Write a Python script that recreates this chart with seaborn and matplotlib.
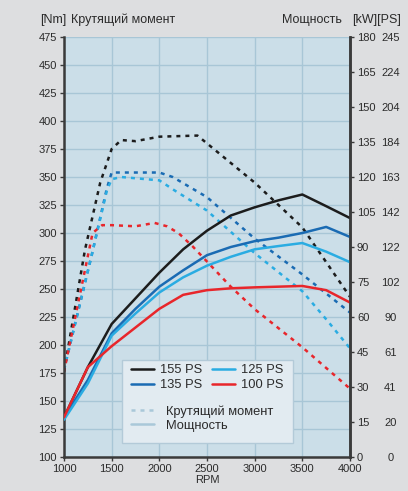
import matplotlib
matplotlib.use("Agg")
import matplotlib.pyplot as plt
import seaborn as sns
import numpy as np
import pandas as pd
from matplotlib.lines import Line2D
from matplotlib.patches import Rectangle

# ---- data ----
rpm_t155 = [1000, 1220, 1380, 1500, 1600, 1750, 2000, 2400, 2500, 3000, 3500, 4000]
torque_155 = [176, 285, 345, 375, 383, 382, 386, 387, 380, 345, 305, 243]
rpm_t135 = [1000, 1290, 1450, 1500, 2000, 2140, 2500, 3000, 3500, 4000]
torque_135 = [178, 280, 340, 354, 354, 350, 332, 295, 263, 229]
rpm_t125 = [1000, 1290, 1450, 1500, 1600, 2000, 2160, 2500, 3000, 3500, 3760, 4000]
torque_125 = [178, 280, 338, 348, 350, 347, 338, 320, 282, 248, 222, 197]
rpm_t100 = [1000, 1300, 1400, 1500, 1750, 1950, 2080, 2200, 2350, 2750, 3000, 3500, 4000]
torque_100 = [176, 300, 307, 307, 306, 309, 306, 300, 288, 252, 232, 198, 161]

rpm_p = [1000, 1250, 1500, 1750, 2000, 2250, 2500, 2750, 3000, 3250, 3500, 3750, 4000]
power_155 = [17, 38.5, 57, 68, 79, 89, 97, 103.5, 107, 110, 112.5, 107.5, 102.4]
power_135 = [17, 33, 53, 63.5, 73, 80, 86.5, 90, 92.5, 94, 96, 98.6, 94.3]
power_125 = [16, 31.5, 52, 61.5, 70.5, 77, 82, 85.8, 89, 90.4, 91.7, 88, 83.5]
power_100 = [17, 38.5, 47.5, 55.5, 63.5, 69.5, 71.5, 72.3, 72.7, 73, 73.3, 71.5, 66.2]

series = ["155 PS", "135 PS", "125 PS", "100 PS"]
colors = ["#1c1c1c", "#1a6bb3", "#2aace2", "#e8262b"]
torque_sets = [(rpm_t155, torque_155), (rpm_t135, torque_135),
               (rpm_t125, torque_125), (rpm_t100, torque_100)]
power_sets = [power_155, power_135, power_125, power_100]

y_left_ticks = list(range(100, 476, 25))
kw_ticks = list(range(0, 181, 15))
ps_labels = ["0", "20", "41", "61", "90", "102", "122", "142", "163", "184", "204", "224", "245"]
x_ticks = list(range(1000, 4001, 500))

# ---- style ----
sns.set_theme(style="white")
plt.rcParams["font.family"] = ["Liberation Sans", "DejaVu Sans"]
txt = "#2b2b2b"
face = "#cbdee8"
grid_c = "#a8c6d6"
spine_c = "#3a3a3a"

fig = plt.figure(figsize=(4.08, 4.91), dpi=100, facecolor="#dddee0")
ax = fig.add_axes([64/408, 34/491, 286/408, 420/491])
ax.set_facecolor(face)
ax.set_xlim(1000, 4000)
ax.set_ylim(100, 475)
ax.set_xticks(x_ticks)
ax.set_yticks(y_left_ticks)
ax.grid(True, color=grid_c, lw=1.0)
ax.set_axisbelow(True)
ax.spines["top"].set_visible(False)
for s in ["left", "right", "bottom"]:
    ax.spines[s].set_color(spine_c)
    ax.spines[s].set_linewidth(1.8)
ax.tick_params(axis="both", direction="out", length=3, width=1, color=spine_c,
               labelsize=8, labelcolor=txt, pad=2, left=True, bottom=True)
ax.set_xlabel("RPM", fontsize=8, color=txt, labelpad=1)
ax.set_ylabel("")

for (r, t), c in zip(torque_sets, colors):
    sns.lineplot(x=r, y=t, ax=ax, color=c, lw=1.8, linestyle=(0, (1.6, 2.0)),
                 estimator=None, sort=False, legend=False)

ax2 = ax.twinx()
ax2.set_ylim(0, 180)
ax2.set_yticks(kw_ticks)
ax2.set_yticklabels([str(v) for v in kw_ticks])
ax2.patch.set_visible(False)
for s in ["top", "left", "bottom"]:
    ax2.spines[s].set_visible(False)
ax2.spines["right"].set_color(spine_c)
ax2.spines["right"].set_linewidth(1.8)
ax2.tick_params(axis="y", direction="out", length=3, width=1, color=spine_c,
                labelsize=8, labelcolor=txt, pad=2, right=True)
ax2.grid(False)

for p, c in zip(power_sets, colors):
    sns.lineplot(x=rpm_p, y=p, ax=ax2, color=c, lw=1.8,
                 estimator=None, sort=False, legend=False)

ax3 = ax.twinx()
ax3.set_ylim(0, 180)
ax3.set_yticks(kw_ticks)
ax3.set_yticklabels(ps_labels)
ax3.patch.set_visible(False)
for s in ax3.spines.values():
    s.set_visible(False)
ax3.tick_params(axis="y", length=0, labelsize=8, labelcolor=txt, pad=29)
for lab in ax3.get_yticklabels():
    lab.set_horizontalalignment("center")
ax3.grid(False)

# legend
ax2.add_patch(Rectangle((0.203, 0.033), 0.598, 0.198, transform=ax.transAxes,
                        facecolor="#e2ebf1", edgecolor="#b3cad8", lw=1.0, zorder=5))
h1 = [Line2D([], [], color=c, lw=1.8) for c in colors]
leg1 = ax2.legend(h1, series, ncol=2, loc="upper left", bbox_to_anchor=(0.201, 0.243),
                  frameon=False, fontsize=9.3, handlelength=1.8, handletextpad=0.5,
                  columnspacing=0.7, labelspacing=0.25, borderpad=0.2)
leg1.set_zorder(6)
for t in leg1.get_texts():
    t.set_color(txt)
ax2.add_artist(leg1)
h2 = [Line2D([], [], color="#a9c8d9", lw=1.8, linestyle=(0, (1.6, 2.0))),
      Line2D([], [], color="#a9c8d9", lw=1.8)]
leg2 = ax2.legend(h2, ["Крутящий момент", "Мощность"], loc="upper left",
                  bbox_to_anchor=(0.201, 0.145), frameon=False, fontsize=9.3,
                  handlelength=1.8, handletextpad=0.95, labelspacing=0.15, borderpad=0.2)
leg2.set_zorder(6)
for t in leg2.get_texts():
    t.set_color(txt)

# header texts
fig.text(40/408, 1 - 20/491, "[Nm]", fontsize=9, color=txt, va="center", ha="left")
fig.text(71/408, 1 - 20/491, "Крутящий момент", fontsize=9, color=txt, va="center", ha="left")
fig.text(342/408, 1 - 20/491, "Мощность", fontsize=9, color=txt, va="center", ha="right")
fig.text(352/408, 1 - 20/491, "[kW][PS]", fontsize=9, color=txt, va="center", ha="left")

fig.savefig("out.png", dpi=100, facecolor=fig.get_facecolor())
